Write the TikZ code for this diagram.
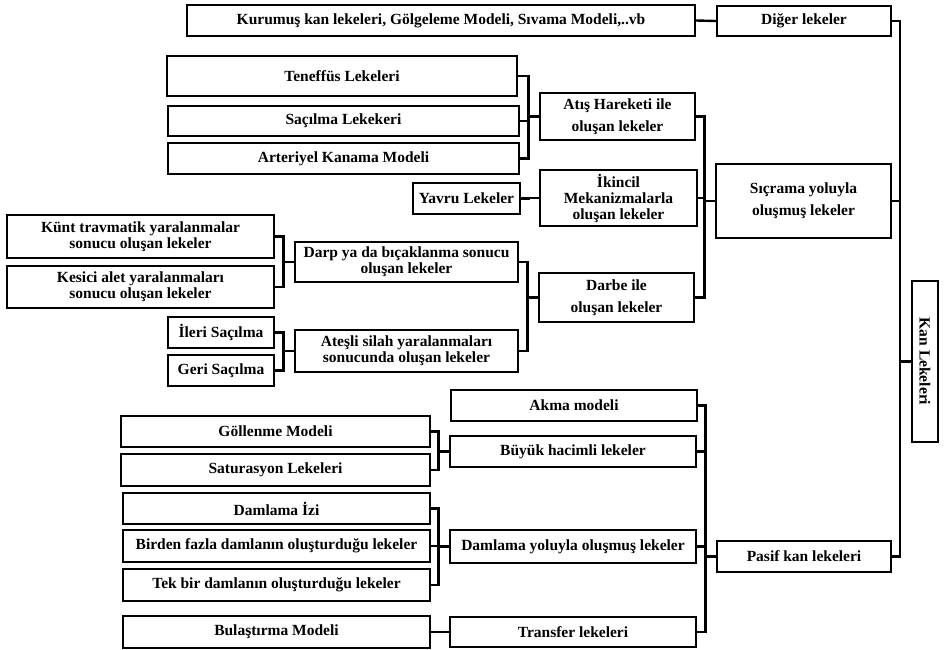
\documentclass[tikz,border=0pt]{standalone}
\usepackage{fontspec}
\setmainfont{Liberation Serif}
\usetikzlibrary{calc}
\tikzset{
  box/.style={draw, line width=2.4pt, align=center, inner sep=1pt,
    font=\fontsize{15.5}{16}\selectfont\bfseries},
  widebox/.style={box, font=\fontsize{15.5}{22}\selectfont\bfseries},
  conn/.style={line width=2.4pt},
}
% elbow from a child box to its parent box
\newcommand{\jointo}[2]{\draw[conn] (#1.east) -| ($(#2.west)+(-10.5,0)$) -- (#2.west);}
\begin{document}
\begin{tikzpicture}[x=1pt,y=-1pt]
    \useasboundingbox (0,0) rectangle (944,649);
    % top row and root
    \node[box, minimum width=508pt, minimum height=31pt] (kurumus) at (441,20.5) {Kurumuş kan lekeleri, Gölgeleme Modeli, Sıvama Modeli,..vb};
    \node[box, minimum width=174pt, minimum height=30pt] (diger) at (804,21) {Diğer lekeler};
    \node[box, rotate=-90, minimum width=161pt, minimum height=26pt] (kan) at (925,361.5) {Kan Lekeleri};
    \node[widebox, minimum width=175pt, minimum height=74pt] (sicrama) at (803.5,201) {Sıçrama yoluyla\\oluşmuş lekeler};
    \node[box, minimum width=174pt, minimum height=31pt] (pasif) at (804,556.5) {Pasif kan lekeleri};
    % Sicrama branch
    \node[widebox, minimum width=155pt, minimum height=47pt] (atis) at (617.5,116.5) {Atış Hareketi ile\\oluşan lekeler};
    \node[box, minimum width=157pt, minimum height=56pt] (ikincil) at (618.5,198) {İkincil\\Mekanizmalarla\\oluşan lekeler};
    \node[widebox, minimum width=155pt, minimum height=49pt] (darbe) at (616.5,297.5) {Darbe ile\\oluşan lekeler};
    \node[box, minimum width=350pt, minimum height=40pt] (teneffus) at (342,76) {Teneffüs Lekeleri};
    \node[box, minimum width=351pt, minimum height=30pt] (sacilma) at (343.5,121) {Saçılma Lekekeri};
    \node[box, minimum width=351pt, minimum height=31pt] (arteriyel) at (343.5,158.5) {Arteriyel Kanama Modeli};
    \node[box, minimum width=107pt, minimum height=31pt] (yavru) at (466.5,198.5) {Yavru Lekeler};
    \node[box, minimum width=223pt, minimum height=40pt] (darp) at (406.5,262) {Darp ya da bıçaklanma sonucu\\oluşan lekeler};
    \node[box, minimum width=223pt, minimum height=42pt] (atesli) at (406.5,351) {Ateşli silah yaralanmaları\\sonucunda oluşan lekeler};
    \node[box, minimum width=267pt, minimum height=43pt] (kunt) at (140.5,236.5) {Künt travmatik yaralanmalar\\sonucu oluşan lekeler};
    \node[box, minimum width=267pt, minimum height=42pt] (kesici) at (140.5,287) {Kesici alet yaralanmaları\\sonucu oluşan lekeler};
    \node[box, minimum width=106pt, minimum height=31pt] (ileri) at (221,332.5) {İleri Saçılma};
    \node[box, minimum width=106pt, minimum height=31pt] (geri) at (221,370.5) {Geri Saçılma};
    % Pasif branch
    \node[box, minimum width=246pt, minimum height=31pt] (akma) at (574,405.5) {Akma modeli};
    \node[box, minimum width=246pt, minimum height=31pt] (buyuk) at (573,451.5) {Büyük hacimli lekeler};
    \node[box, minimum width=246pt, minimum height=33pt] (damlama) at (573,546.5) {Damlama yoluyla oluşmuş lekeler};
    \node[box, minimum width=246pt, minimum height=30pt] (transfer) at (573,632) {Transfer lekeleri};
    \node[box, minimum width=309pt, minimum height=31pt] (gollenme) at (275.5,431.5) {Göllenme Modeli};
    \node[box, minimum width=309pt, minimum height=32pt] (saturasyon) at (275.5,470) {Saturasyon Lekeleri};
    \node[box, minimum width=307pt, minimum height=31pt] (damlaizi) at (276.5,508.5) {Damlama İzi};
    \node[box, minimum width=307pt, minimum height=32pt] (birden) at (276.5,546) {Birden fazla damlanın oluşturduğu lekeler};
    \node[box, minimum width=307pt, minimum height=32pt] (tekbir) at (276.5,585) {Tek bir damlanın oluşturduğu lekeler};
    \node[box, minimum width=307pt, minimum height=32pt] (bulas) at (276.5,632) {Bulaştırma Modeli};
    % connectors
    \draw[conn] (kurumus.east) -- (diger.west);
    \foreach \c in {diger,sicrama,pasif}
        \draw[conn] (\c.east) -| ($(kan.south)+(-11,0)$) -- (kan.south);
    \foreach \c in {atis,ikincil,darbe} {\jointo{\c}{sicrama}}
    \foreach \c in {teneffus,sacilma,arteriyel} {\jointo{\c}{atis}}
    \jointo{yavru}{ikincil}
    \foreach \c in {darp,atesli} {\jointo{\c}{darbe}}
    \foreach \c in {kunt,kesici} {\jointo{\c}{darp}}
    \foreach \c in {ileri,geri} {\jointo{\c}{atesli}}
    \foreach \c in {akma,buyuk,damlama,transfer} {\jointo{\c}{pasif}}
    \foreach \c in {gollenme,saturasyon} {\jointo{\c}{buyuk}}
    \foreach \c in {damlaizi,birden,tekbir} {\jointo{\c}{damlama}}
    \jointo{bulas}{transfer}
\end{tikzpicture}
\end{document}
